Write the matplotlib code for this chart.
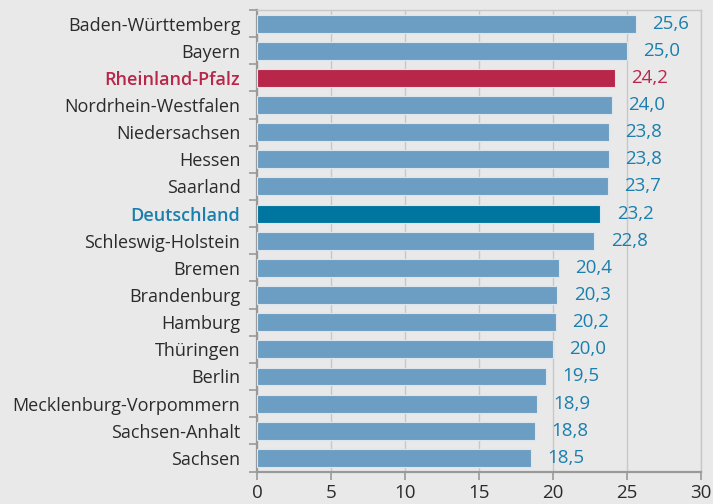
import matplotlib
matplotlib.use("Agg")
import matplotlib.pyplot as plt
import numpy as np
from matplotlib.ticker import FixedLocator

plt.rcParams['font.family'] = ['Open Sans', 'DejaVu Sans']

states = ["Baden-Württemberg", "Bayern", "Rheinland-Pfalz", "Nordrhein-Westfalen",
          "Niedersachsen", "Hessen", "Saarland", "Deutschland", "Schleswig-Holstein",
          "Bremen", "Brandenburg", "Hamburg", "Thüringen", "Berlin",
          "Mecklenburg-Vorpommern", "Sachsen-Anhalt", "Sachsen"]
values = [25.6, 25.0, 24.2, 24.0, 23.8, 23.8, 23.7, 23.2, 22.8,
          20.4, 20.3, 20.2, 20.0, 19.5, 18.9, 18.8, 18.5]
x_ticks = [0, 5, 10, 15, 20, 25, 30]

BG = "#e9e9e9"
BLUE = "#6b9ec2"
RED = "#b8264a"
DARK = "#0075a0"
TXT_BLUE = "#1a7fae"

fig = plt.figure(figsize=(7.13, 5.04), dpi=100, facecolor=BG)
ax = fig.add_axes([257/713, 1-471.5/504, (701-257)/713, (471.5-10)/504])
ax.set_facecolor(BG)

n = len(states)
y = np.arange(n)
colors = []
lblcolors = []
for s in states:
    if s == "Rheinland-Pfalz":
        colors.append(RED); lblcolors.append(RED)
    elif s == "Deutschland":
        colors.append(DARK); lblcolors.append(TXT_BLUE)
    else:
        colors.append(BLUE); lblcolors.append("#2b2b2b")

ax.barh(y, values, height=0.66, color=colors, edgecolor="#dbe6ee", linewidth=0.8, zorder=3)
ax.set_ylim(n - 0.5, -0.5)
ax.set_xlim(0, 30)
ax.set_xticks(x_ticks)
ax.set_xticklabels([str(t) for t in x_ticks], fontsize=13.5, color="#2b2b2b")

ax.set_yticks(y)
ax.set_yticklabels(states, fontsize=13)
for lab, c, s in zip(ax.get_yticklabels(), lblcolors, states):
    lab.set_color(c)
    if s in ("Rheinland-Pfalz", "Deutschland"):
        lab.set_fontweight("semibold")
ax.tick_params(axis='y', which='major', length=0, pad=12)
ax.yaxis.set_minor_locator(FixedLocator(np.arange(-0.5, n, 1.0)))
ax.tick_params(axis='y', which='minor', length=6, width=1.2, color="#999999")
ax.tick_params(axis='x', length=6, width=1.2, color="#999999", pad=3)

ax.grid(axis='x', color="#c8c8c8", linewidth=1, zorder=0)
ax.set_axisbelow(True)

for sp in ["left", "bottom"]:
    ax.spines[sp].set_color("#999999")
    ax.spines[sp].set_linewidth(1.6)
for sp in ["right", "top"]:
    ax.spines[sp].set_color("#c8c8c8")
    ax.spines[sp].set_linewidth(1)

for yi, v, s in zip(y, values, states):
    c = RED if s == "Rheinland-Pfalz" else TXT_BLUE
    ax.text(v + 1.1, yi, f"{v:.1f}".replace(".", ","), va="center", ha="left",
            fontsize=13.5, color=c, zorder=4)

fig.savefig("out.png", dpi=100, facecolor=BG)
